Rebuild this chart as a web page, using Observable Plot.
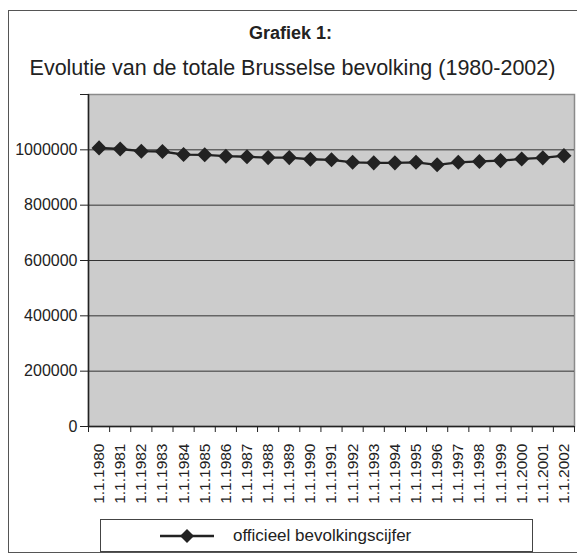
<!DOCTYPE html>
<html><head><meta charset="utf-8">
<script src="https://cdn.jsdelivr.net/npm/d3@7"></script>
<script src="https://cdn.jsdelivr.net/npm/@observablehq/plot@0.6"></script>
<style>
body{margin:0;background:#fff;font-family:"Liberation Sans",Arial,sans-serif;color:#222;}
#wrap{position:relative;width:577px;height:559px;overflow:hidden;}
#frame{position:absolute;left:8px;top:10px;width:600px;height:543px;border:1.5px solid #555;box-sizing:border-box;}
#title{position:absolute;top:23px;left:2px;width:577px;text-align:center;font-weight:bold;font-size:18px;line-height:20px;}
#subtitle{position:absolute;top:56px;left:4px;width:577px;text-align:center;font-size:21.5px;line-height:24px;}
#chart{position:absolute;left:0;top:80px;}
#legend{position:absolute;left:100px;top:519px;width:433px;height:33px;border:1px solid #444;box-sizing:border-box;}
#legend svg{position:absolute;left:58px;top:7px;}
#legend span{position:absolute;left:132px;top:6px;font-size:17px;line-height:20px;}
</style></head>
<body>
<div id="wrap">
  <div id="frame"></div>
  <div id="title">Grafiek 1:</div>
  <div id="subtitle">Evolutie van de totale Brusselse bevolking (1980-2002)</div>
  <div id="chart"></div>
  <div id="legend">
    <svg width="56" height="18"><line x1="1" y1="9" x2="55" y2="9" stroke="#222" stroke-width="2.5"/><path d="M28,2L35,9L28,16L21,9Z" fill="#222"/></svg>
    <span>officieel bevolkingscijfer</span>
  </div>
</div>
<script>
const years = ["1.1.1980","1.1.1981","1.1.1982","1.1.1983","1.1.1984","1.1.1985","1.1.1986","1.1.1987","1.1.1988","1.1.1989","1.1.1990","1.1.1991","1.1.1992","1.1.1993","1.1.1994","1.1.1995","1.1.1996","1.1.1997","1.1.1998","1.1.1999","1.1.2000","1.1.2001","1.1.2002"];
const population = [1007000,1003000,995000,994000,983000,982000,977000,975000,972000,972000,966000,964000,955000,953000,953000,955000,946000,955000,958000,961000,967000,971000,979000];
const yTicks = [0,200000,400000,600000,800000,1000000,1200000];

const data = years.map((label, i) => ({i, label, value: population[i]}));

const chart = Plot.plot({
  width: 577, height: 435,
  marginLeft: 88, marginRight: 3, marginTop: 14, marginBottom: 89,
  style: {fontFamily: "'Liberation Sans', Arial, sans-serif", fontSize: "16px", color: "#222", background: "transparent"},
  x: {type: "linear", domain: [-0.5, years.length - 0.5]},
  y: {domain: [0, 1200000]},
  marks: [
    Plot.frame({fill: "#cccccc", stroke: "#8a8a8a", strokeWidth: 1.5}),
    Plot.gridY(yTicks.slice(1, -1), {stroke: "#333", strokeOpacity: 1, strokeWidth: 1}),
    Plot.ruleX([-0.5], {stroke: "#222", strokeWidth: 1.5}),
    Plot.ruleY([0], {stroke: "#222", strokeWidth: 1.5}),
    Plot.axisY(yTicks, {tickSize: 8, tickPadding: 3, label: null, stroke: "#222", tickFormat: d => d === 1200000 ? "" : String(d)}),
    Plot.axisX(d3.range(-0.5, years.length), {tickSize: 6, label: null, stroke: "#222", tickFormat: () => ""}),
    Plot.axisX(d3.range(years.length), {tickSize: 0, tickPadding: 17, tickRotate: -90, label: null, fontSize: 15.5, tickFormat: i => years[i]}),
    Plot.line(data, {x: "i", y: "value", stroke: "#222", strokeWidth: 2.3}),
    Plot.dot(data, {x: "i", y: "value", symbol: "diamond2", r: 6.8, fill: "#222", stroke: "none"})
  ]
});
document.getElementById("chart").appendChild(chart);
</script>
</body></html>
